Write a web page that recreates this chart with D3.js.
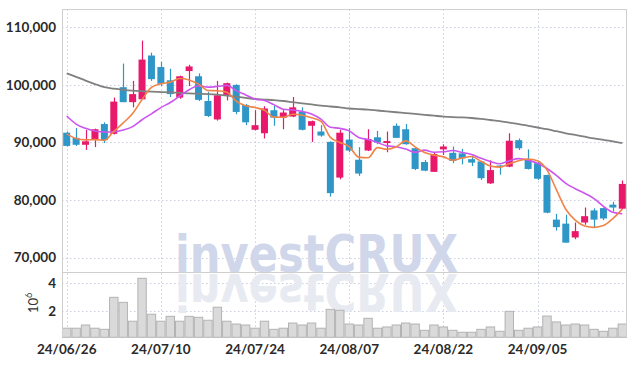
<!DOCTYPE html>
<html><head><meta charset="utf-8">
<script src="https://cdn.jsdelivr.net/npm/d3@7"></script>
<style>body{margin:0;background:#fff}svg{display:block}</style>
</head><body><svg id="c" width="635" height="366"></svg>
<script>
const dates = ["24/06/26","24/06/27","24/06/28","24/07/01","24/07/02","24/07/03","24/07/04","24/07/05","24/07/08","24/07/09",
"24/07/10","24/07/11","24/07/12","24/07/15","24/07/16","24/07/17","24/07/18","24/07/19","24/07/22","24/07/23",
"24/07/24","24/07/25","24/07/26","24/07/29","24/07/30","24/07/31","24/08/01","24/08/02","24/08/05","24/08/06",
"24/08/07","24/08/08","24/08/09","24/08/12","24/08/13","24/08/14","24/08/16","24/08/19","24/08/20","24/08/21",
"24/08/22","24/08/23","24/08/26","24/08/27","24/08/28","24/08/29","24/08/30","24/09/02","24/09/03","24/09/04",
"24/09/05","24/09/06","24/09/09","24/09/10","24/09/11","24/09/12","24/09/13","24/09/19","24/09/20","24/09/23"];
const opens = [91700,90800,89600,90500,93200,91500,99600,97000,97500,105100,
103100,100800,97800,102400,101500,97200,94000,98200,100000,96500,
92200,91600,95600,94300,94500,95300,92900,91900,90100,83900,
90500,87000,88600,90900,89900,92900,92300,89000,86600,84900,
88800,88200,88100,87100,86700,82900,86000,85800,90400,87000,
86400,84350,76600,75900,73500,76100,78200,78600,79200,78500];
const highs = [91900,92500,92200,92400,93500,97800,103700,100700,107700,105600,
104000,102800,101600,103500,102000,98800,100700,100400,100100,96700,
95600,96300,96400,95600,97900,96100,93800,93000,90200,92200,
92500,89200,92300,92000,91900,93300,93200,89000,86950,88170,
89680,89300,88900,87700,86800,86900,86100,91600,90700,88800,
86700,84400,77600,77450,76100,78700,78560,78700,79700,83400];
const lows = [89300,89400,88700,89200,89900,91400,97000,96100,97500,100700,
99800,97900,97600,99800,97200,94400,93800,97300,94900,93000,
92100,90700,92900,92300,94400,92100,90100,91000,80600,83600,
88300,84200,88500,89700,88300,90800,89600,85200,85000,84870,
87820,86400,86200,85900,83500,82800,84400,85700,88700,85300,
83500,77700,74700,72600,73200,75700,75300,76500,78000,78400];
const closes = [89400,89600,90200,92300,90400,97100,97000,98400,104400,101000,
100200,98400,101500,103200,97400,94600,98200,100300,95300,93500,
93000,95900,94300,95200,96100,92200,93700,91200,81200,91700,
88600,84600,90600,90000,90250,90800,89700,85400,85100,88000,
89300,86800,87250,86500,83800,85200,85800,90300,89000,85400,
83700,77800,75300,72600,74600,77200,76600,76800,78700,82800];
// volume in millions of shares
const volumes = [0.79,0.79,1.02,0.79,0.71,3.00,2.64,1.29,4.36,1.79,
1.29,1.64,1.29,1.64,1.57,1.36,2.29,1.29,1.09,1.02,
0.79,1.29,0.71,0.79,1.16,1.02,1.16,0.79,2.14,2.07,
1.09,1.02,1.50,0.79,0.88,1.02,1.16,1.09,0.64,1.02,
0.88,0.64,0.50,0.50,0.71,0.88,0.57,2.00,0.64,0.79,
0.88,1.66,1.24,1.02,1.09,1.02,0.71,0.57,0.79,1.09];
const ma5 = [91500,90700,90450,90500,90380,91920,93400,95040,97460,99580,
100200,100480,101100,100860,100140,99020,98980,98740,97160,96380,
96060,95600,94400,94380,94900,94740,94300,93680,90880,90000,
89280,87460,87340,89100,88810,89250,90270,89230,88250,87800,
87500,86920,87290,87570,86730,85910,85710,86320,86820,87140,
86840,85240,81800,78400,76500,75500,75260,75560,76780,78420];
const ma10 = [94600,93200,92450,92000,91800,91850,92150,92750,93950,94980,
96060,96940,98070,99160,99860,99610,99730,99920,99010,98260,
97540,97290,96570,95770,95640,95400,94950,94040,92630,92450,
92010,90880,90510,89990,89405,89265,88865,88285,88675,88305,
88375,88595,88260,87910,87265,86705,86315,86805,87195,86935,
86375,85475,84280,82890,81970,81170,80250,78900,77870,77610];
const maLong = [102000,101400,100750,100150,99600,99350,99150,99000,98900,98820,
98760,98700,98600,98530,98470,98400,98300,98150,97950,97750,
97550,97450,97350,97200,97000,96800,96600,96400,96250,96100,
95900,95800,95700,95550,95400,95250,95100,94950,94800,94650,
94500,94400,94350,94250,94100,93900,93700,93450,93200,92900,
92600,92300,91950,91600,91300,91000,90700,90450,90200,89900];
const priceTicks = [70000,80000,90000,100000,110000];
const volumeTicks = [2,4];
const dateTicks = ["24/06/26","24/07/10","24/07/24","24/08/07","24/08/22","24/09/05"];

const L=62, R=627, T=9.3, PB=272.3, VB=337.3;
const FONT = "Lato, 'Liberation Sans', sans-serif";
const svg = d3.select("#c");

const x = d3.scaleBand().domain(dates).range([L,R]).padding(0);
const bw = x.bandwidth();
const xc = d => x(d) + bw/2;
const y = d3.scaleLinear().domain([67450,113130]).range([PB,T]);
const yv = d3.scaleLinear().domain([0.14,4.79]).range([VB,PB]);

const gridColor = "#c9cde0";
const grid = svg.append("g").attr("stroke",gridColor).attr("stroke-width",1).attr("stroke-dasharray","1.5,2.5");
grid.selectAll(".hp").data(priceTicks).join("line")
  .attr("x1",L).attr("x2",R).attr("y1",d=>Math.round(y(d))+0.5).attr("y2",d=>Math.round(y(d))+0.5);
grid.selectAll(".hv").data(volumeTicks).join("line")
  .attr("x1",L).attr("x2",R).attr("y1",d=>Math.round(yv(d))+0.5).attr("y2",d=>Math.round(yv(d))+0.5);
grid.selectAll(".vx").data(dateTicks).join("line")
  .attr("x1",d=>Math.round(xc(d))+0.5).attr("x2",d=>Math.round(xc(d))+0.5).attr("y1",T).attr("y2",VB);

// watermark (with reflection)
const wm = svg.append("g").attr("font-family","'DejaVu Sans', 'Liberation Sans', sans-serif").attr("font-weight","bold").attr("font-size",52);
wm.append("text").attr("x",175).attr("y",271.5).attr("textLength",283).attr("lengthAdjust","spacingAndGlyphs")
  .attr("fill","#d0d7ea").text("investCRUX");
wm.append("text").attr("transform","translate(0,545) scale(1,-1)").attr("x",175).attr("y",271.5)
  .attr("textLength",283).attr("lengthAdjust","spacingAndGlyphs").attr("fill","#e8eaf2").text("investCRUX");

// volume bars
svg.append("g").selectAll("rect").data(dates).join("rect")
  .attr("x",d=>x(d)+0.5).attr("width",bw-1)
  .attr("y",(d,i)=>yv(volumes[i])).attr("height",(d,i)=>VB-yv(volumes[i]))
  .attr("fill","#dadada").attr("stroke","#b3b3b3").attr("stroke-width",1);

// frame
const frame = svg.append("g").attr("stroke","#cfcfcf").attr("stroke-width",1).attr("fill","none");
frame.append("line").attr("x1",L+0.5).attr("x2",L+0.5).attr("y1",T).attr("y2",VB);
frame.append("line").attr("x1",R-0.5).attr("x2",R-0.5).attr("y1",T).attr("y2",VB);
frame.append("line").attr("x1",L).attr("x2",R).attr("y1",9.5).attr("y2",9.5);
frame.append("line").attr("x1",L).attr("x2",R).attr("y1",272.5).attr("y2",272.5);

// candles
const up = "#e8196b", down = "#2f96c8";
const cg = svg.append("g");
const col = i => closes[i] >= opens[i] ? up : down;
cg.selectAll("line").data(dates).join("line")
  .attr("x1",d=>Math.round(xc(d))+0.5).attr("x2",d=>Math.round(xc(d))+0.5)
  .attr("y1",(d,i)=>y(highs[i])).attr("y2",(d,i)=>y(lows[i]))
  .attr("stroke",(d,i)=>col(i)).attr("stroke-width",1.2);
const bodyW = 7;
cg.selectAll("rect").data(dates).join("rect")
  .attr("x",d=>xc(d)-bodyW/2).attr("width",bodyW)
  .attr("y",(d,i)=>y(Math.max(opens[i],closes[i])))
  .attr("height",(d,i)=>Math.max(1.5,Math.abs(y(opens[i])-y(closes[i]))))
  .attr("fill",(d,i)=>col(i));

// moving averages
const line = arr => d3.line().x(d=>xc(d)).y((d,i)=>y(arr[i])).curve(d3.curveMonotoneX)(dates);
svg.append("path").attr("d",line(maLong)).attr("fill","none").attr("stroke","#808080").attr("stroke-width",1.8);
svg.append("path").attr("d",line(ma10)).attr("fill","none").attr("stroke","#cc55ee").attr("stroke-width",1.6);
svg.append("path").attr("d",line(ma5)).attr("fill","none").attr("stroke","#f08448").attr("stroke-width",1.6);

// axes
const ya = svg.append("g").attr("transform",`translate(${L},0)`)
  .call(d3.axisLeft(y).tickValues(priceTicks).tickFormat(d3.format(",")).tickSize(0).tickPadding(6));
const yva = svg.append("g").attr("transform",`translate(${L},0)`)
  .call(d3.axisLeft(yv).tickValues(volumeTicks).tickFormat(d3.format("d")).tickSize(0).tickPadding(6));
const xa = svg.append("g").attr("transform",`translate(0,${VB})`)
  .call(d3.axisBottom(x).tickValues(dateTicks).tickSize(0).tickPadding(7.5));
[ya,yva,xa].forEach(g=>{
  g.select(".domain").remove();
  g.selectAll("text").attr("font-family",FONT).attr("font-size",13.5).attr("font-weight","bold").attr("fill","#2a2a2a");
});

// volume unit label
const ul = svg.append("text").attr("transform","translate(38,313) rotate(-90)")
  .attr("font-family",FONT).attr("font-size",13).attr("fill","#333");
ul.append("tspan").text("10");
ul.append("tspan").attr("dy",-6).attr("font-size",9).text("6");
</script></body></html>
